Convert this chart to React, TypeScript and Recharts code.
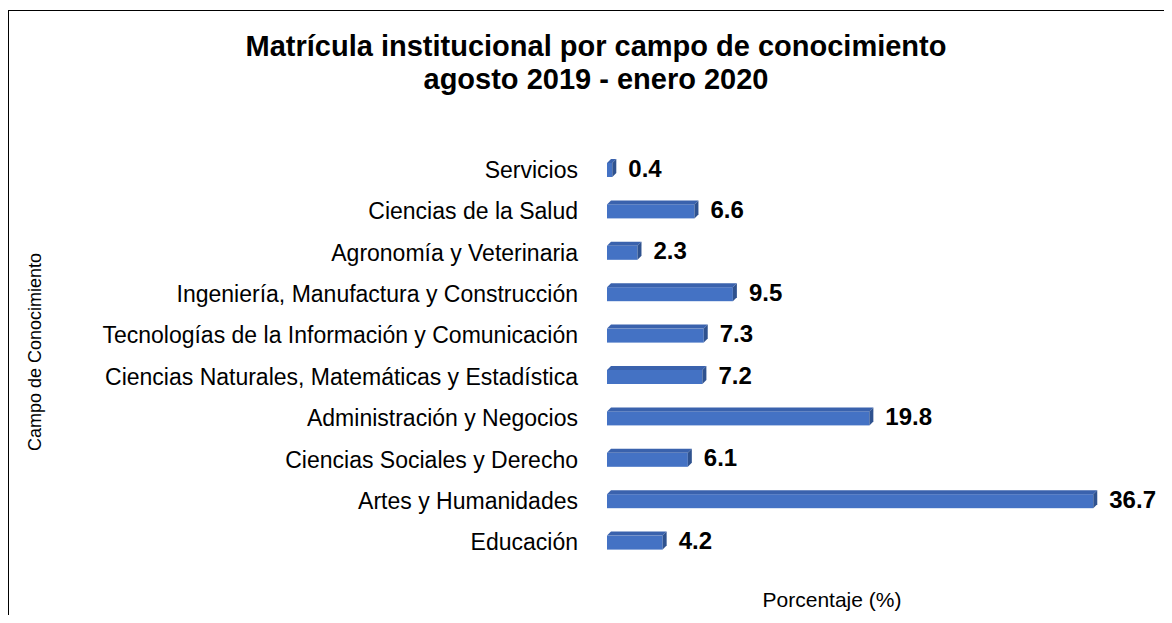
import React from 'react';
import { BarChart, Bar, XAxis, YAxis, LabelList } from 'recharts';

const campos = [
  'Servicios',
  'Ciencias de la Salud',
  'Agronomía y Veterinaria',
  'Ingeniería, Manufactura y Construcción',
  'Tecnologías de la Información y Comunicación',
  'Ciencias Naturales, Matemáticas y Estadística',
  'Administración y Negocios',
  'Ciencias Sociales y Derecho',
  'Artes y Humanidades',
  'Educación',
];
const porcentajes = [0.4, 6.6, 2.3, 9.5, 7.3, 7.2, 19.8, 6.1, 36.7, 4.2];

const data = campos.map((campo, i) => ({ campo, valor: porcentajes[i] }));

const FONT = '"Liberation Sans", Arial, sans-serif';

// barra con efecto 3D (cara frontal, superior y lateral)
const Bar3D = (props: any) => {
  const { x, y, width, height } = props;
  if (width == null || height == null) return null;
  const d = 4;
  const w = Math.max(width, 1);
  return (
    <g>
      <rect x={x} y={y + d} width={w} height={height - d} fill="#4472C4" />
      <polygon
        points={`${x},${y + d} ${x + d},${y} ${x + w + d},${y} ${x + w},${y + d}`}
        fill="#3A62AD"
      />
      <polygon
        points={`${x + w},${y + d} ${x + w + d},${y} ${x + w + d},${y + height - d} ${x + w},${y + height}`}
        fill="#2F528F"
      />
    </g>
  );
};

const CampoTick = (props: any) => {
  const { x, y, payload } = props;
  return (
    <text x={x} y={y} dy={4} textAnchor="end" dominantBaseline="middle" fontSize={23} fill="#000" fontFamily={FONT}>
      {payload.value}
    </text>
  );
};

export default function App() {
  return (
    <div style={{ position: 'relative', width: 1172, height: 623, margin: -8, overflow: 'hidden', fontFamily: FONT, background: '#fff' }}>
      <div style={{ position: 'absolute', left: 2, top: -17, fontSize: 22, color: '#000', whiteSpace: 'nowrap' }}>
        Gráfica 1.1.
      </div>
      <div style={{ position: 'absolute', left: 8, top: 10, width: 1300, height: 800, border: '1.5px solid #000' }} />
      <div
        style={{
          position: 'absolute',
          left: 0,
          width: 1192,
          top: 30,
          textAlign: 'center',
          fontWeight: 'bold',
          fontSize: 29,
          lineHeight: '33px',
          color: '#000',
        }}
      >
        Matrícula institucional por campo de conocimiento
        <br />
        agosto 2019 - enero 2020
      </div>
      <div
        style={{
          position: 'absolute',
          left: 35,
          top: 352,
          transform: 'translate(-50%, -50%) rotate(-90deg)',
          fontSize: 18,
          whiteSpace: 'nowrap',
          color: '#000',
        }}
      >
        Campo de Conocimiento
      </div>
      <div
        style={{
          position: 'absolute',
          left: 832,
          top: 600,
          transform: 'translate(-50%, -50%)',
          fontSize: 21,
          whiteSpace: 'nowrap',
          color: '#000',
        }}
      >
        Porcentaje (%)
      </div>
      <div style={{ position: 'absolute', left: 0, top: 0 }}>
        <BarChart
          width={1172}
          height={623}
          data={data}
          layout="vertical"
          margin={{ top: 147, right: 35, bottom: 62, left: 27 }}
        >
          <XAxis type="number" domain={[0, 40]} hide />
          <YAxis
            type="category"
            dataKey="campo"
            width={580}
            axisLine={false}
            tickLine={false}
            tickSize={0}
            tickMargin={29}
            tick={<CampoTick />}
            interval={0}
          />
          <Bar dataKey="valor" barSize={18} shape={<Bar3D />} isAnimationActive={false}>
            <LabelList
              dataKey="valor"
              position="right"
              offset={16}
              fill="#000"
              fontSize={24}
              fontWeight="bold"
              fontFamily={FONT}
            />
          </Bar>
        </BarChart>
      </div>
    </div>
  );
}
